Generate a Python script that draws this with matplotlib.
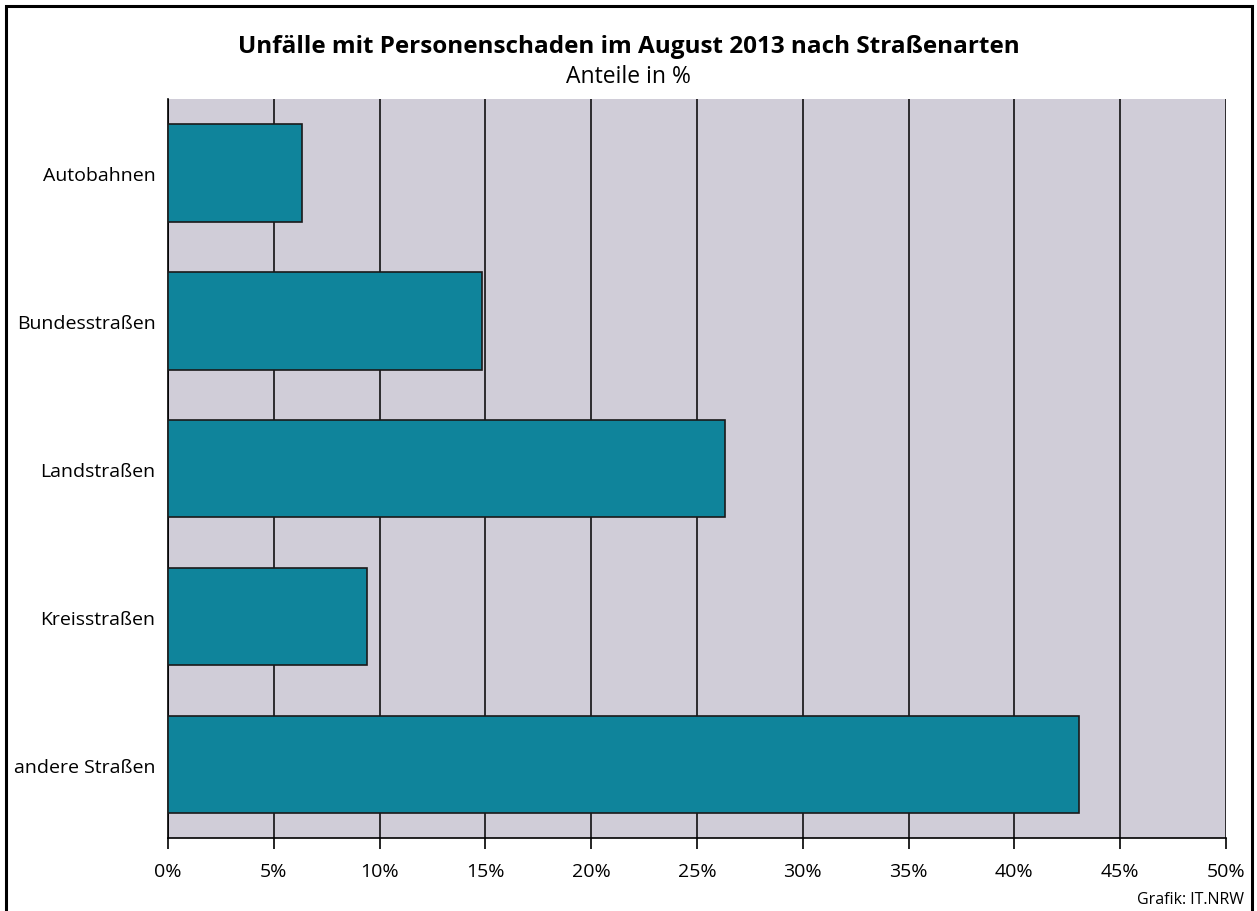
import matplotlib
matplotlib.use("Agg")
import matplotlib.pyplot as plt
from matplotlib.patches import Rectangle
from matplotlib.ticker import FuncFormatter
import numpy as np

categories = ["Autobahnen", "Bundesstraßen", "Landstraßen", "Kreisstraßen", "andere Straßen"]
shares = [6.35, 14.85, 26.3, 9.42, 43.05]
xticks = np.arange(0, 51, 5)

plt.rcParams['font.family'] = ['Open Sans', 'DejaVu Sans']

fig = plt.figure(figsize=(12.57, 9.12), dpi=100)
ax = fig.add_axes([0.1337, 0.0795, 0.8416, 0.811])

ypos = np.arange(len(categories))
ax.set_facecolor('#d0cdd8')
ax.barh(ypos, shares, height=0.66, color='#0f849b', edgecolor='#1a1a1a', linewidth=1.2, zorder=3)
ax.set_xlim(0, 50)
ax.set_ylim(len(categories) - 0.5, -0.5)
ax.set_xticks(xticks)
ax.xaxis.set_major_formatter(FuncFormatter(lambda v, p: "{:d}%".format(int(v))))
ax.set_yticks(ypos)
ax.set_yticklabels(categories)
ax.grid(axis='x', color='black', linewidth=1.1, zorder=1)
ax.set_axisbelow(True)
for s in ['top', 'right']:
  ax.spines[s].set_visible(False)
ax.spines['left'].set_linewidth(1.2)
ax.spines['bottom'].set_linewidth(1.2)
ax.tick_params(axis='x', length=8, width=1.2, labelsize=14, pad=9)
ax.tick_params(axis='y', length=0, labelsize=14, pad=9)

fig.text(0.5, 0.949, "Unfälle mit Personenschaden im August 2013 nach Straßenarten",
         ha='center', va='center', fontsize=17.5, fontweight='bold')
fig.text(0.5, 0.916, "Anteile in %", ha='center', va='center', fontsize=16.5)
fig.text(0.99, 0.013, "Grafik: IT.NRW", ha='right', va='center', fontsize=11.5)

fig.patches.append(Rectangle((0.005, -0.01), 0.991, 1.002, transform=fig.transFigure,
                             fill=False, edgecolor='black', linewidth=2.2))

plt.savefig("out.png", dpi=100)
